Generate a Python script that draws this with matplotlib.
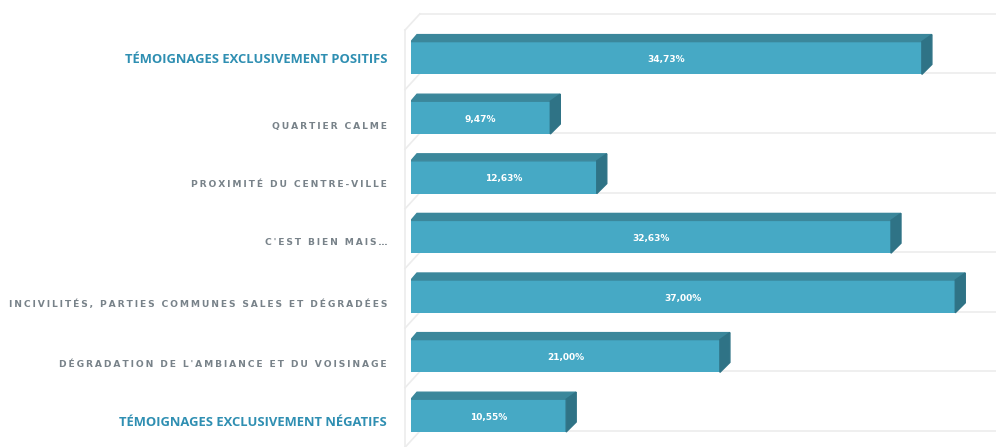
import matplotlib.pyplot as plt
from matplotlib.patches import Polygon

categories = [
    "TÉMOIGNAGES EXCLUSIVEMENT POSITIFS",
    "QUARTIER CALME",
    "PROXIMITÉ DU CENTRE-VILLE",
    "C'EST BIEN MAIS…",
    "INCIVILITÉS, PARTIES COMMUNES SALES ET DÉGRADÉES",
    "DÉGRADATION DE L'AMBIANCE ET DU VOISINAGE",
    "TÉMOIGNAGES EXCLUSIVEMENT NÉGATIFS",
]
values = [34.73, 9.47, 12.63, 32.63, 37.00, 21.00, 10.55]
value_labels = ["34,73%", "9,47%", "12,63%", "32,63%", "37,00%", "21,00%", "10,55%"]
highlighted = [True, False, False, False, False, False, True]

front = "#46a9c5"
top = "#3b879b"
side = "#2f7386"
teal_text = "#2f8fb2"
grey_text = "#56636c"

W, H = 996, 447
fig = plt.figure(figsize=(W / 100, H / 100), dpi=100)
x0 = 411
px_per_unit = 14.71
row = 59.6
ax = fig.add_axes([x0 / W, 0, (W - x0) / W, 1])
ax.set_xlim(0, (W - x0) / px_per_unit)
ax.set_ylim((H - 58) / row, -58 / row)
ax.axis("off")

h = 0.55
dx = 10 / px_per_unit
dy = 7 / row

# back wall grid lines and left wall
grid_col = "#ececec"
for i in range(len(values) + 1):
    yg = i - 0.5 - 0.24
    ax.plot([0.6, 50], [yg, yg], color=grid_col, lw=1.2, zorder=0, clip_on=False)
    ax.plot([-0.4, 0.6], [yg + 0.27, yg], color=grid_col, lw=1.2, zorder=0, clip_on=False)
ax.plot([-0.4, -0.4], [-0.5 + 0.03, len(values) - 0.2], color=grid_col, lw=1.2,
        zorder=0, clip_on=False)

ax.barh(range(len(values)), values, height=h, color=front, zorder=2)

label_dy = [0.02, 0.15, 0.13, 0.1, 0.13, 0.15, 0.12]

for i, v in enumerate(values):
    yt = i - h / 2
    yb = i + h / 2
    ax.add_patch(Polygon([(0, yt), (v, yt), (v + dx, yt - dy), (dx * 0.6, yt - dy)],
                         closed=True, color=top, zorder=3))
    ax.add_patch(Polygon([(v, yt), (v + dx, yt - dy), (v + dx, yb - dy - 0.05), (v, yb)],
                         closed=True, color=side, zorder=3))
    ax.text(v / 2, i + 0.03, value_labels[i], ha="center", va="center", color="white",
            fontsize=6.5, fontweight="bold", family="DejaVu Sans", zorder=4)

    lx = -24 / px_per_unit
    if highlighted[i]:
        ax.text(lx, i + label_dy[i], categories[i], ha="right", va="center",
                color=teal_text, fontsize=9.4, fontweight="bold", family="Open Sans",
                clip_on=False)
    else:
        spaced = "\u2009".join(categories[i])
        ax.text(lx, i + label_dy[i], spaced, ha="right", va="center", color=grey_text,
                fontsize=6.6, fontweight="bold", family="DejaVu Sans", clip_on=False,
                alpha=0.8)

fig.savefig("out.png", dpi=100)
